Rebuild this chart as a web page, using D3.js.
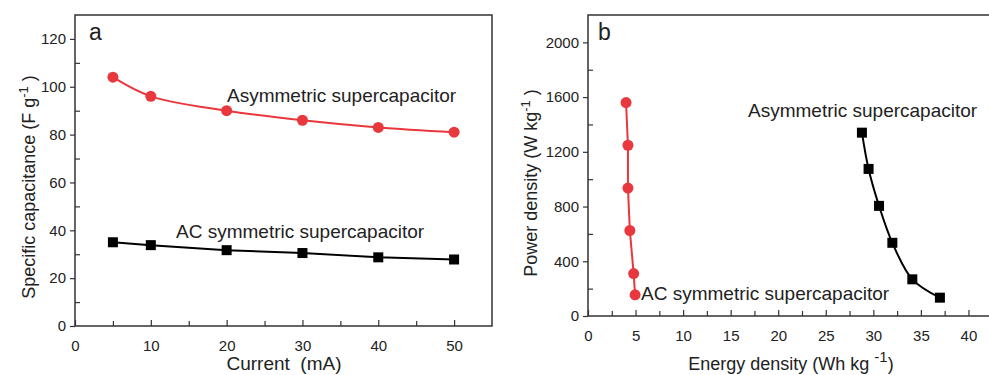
<!DOCTYPE html>
<html>
<head>
<meta charset="utf-8">
<script src="https://cdn.jsdelivr.net/npm/d3@7"></script>
<style>
  body { margin: 0; background: #fff; }
  svg text { font-family: "Liberation Sans", Arial, sans-serif; fill: #222; }
</style>
</head>
<body>
<div id="chart"></div>
<script>
// panel a: specific capacitance vs current
var currentA = [5, 10, 20, 30, 40, 50];
var asymCap = [104, 96, 90, 86, 83, 81];
var acCap = [35, 33.8, 31.7, 30.5, 28.7, 27.8];

// panel b: ragone plot
var asymEnergy = [28.8, 29.5, 30.6, 32.0, 34.1, 37.0];
var asymPower = [1340, 1075, 805, 535, 268, 134];
var acEnergy = [4.0, 4.2, 4.2, 4.4, 4.8, 4.95];
var acPower = [1560, 1248, 935, 625, 310, 155];

var xTicksA = [0, 10, 20, 30, 40, 50];
var yTicksA = [0, 20, 40, 60, 80, 100, 120];
var xTicksB = [0, 5, 10, 15, 20, 25, 30, 35, 40];
var yTicksB = [0, 400, 800, 1200, 1600, 2000];

var red = "#e8383d";

var svg = d3.select("#chart").append("svg")
    .attr("width", 989)
    .attr("height", 375);

function drawPanel(opt) {
  var g = svg.append("g");
  var x = d3.scaleLinear().domain(opt.xDomain).range([opt.left, opt.right]);
  var y = d3.scaleLinear().domain(opt.yDomain).range([opt.bottom, opt.top]);

  // frame
  g.append("rect")
    .attr("x", opt.left).attr("y", opt.top)
    .attr("width", opt.right - opt.left).attr("height", opt.bottom - opt.top)
    .attr("fill", "none").attr("stroke", "#333").attr("stroke-width", 1.5);

  // x axis: ticks point inward
  var xa = g.append("g").attr("transform", "translate(0," + opt.bottom + ")")
    .call(d3.axisBottom(x).tickValues(opt.xMinor).tickSize(-5).tickFormat(""));
  xa.select(".domain").remove();
  xa.selectAll("line").attr("stroke", "#333").attr("stroke-width", 1.2);
  var xb = g.append("g").attr("transform", "translate(0," + opt.bottom + ")")
    .call(d3.axisBottom(x).tickValues(opt.xTicks).tickSize(-6).tickPadding(14).tickFormat(d3.format("d")));
  xb.select(".domain").remove();
  xb.selectAll("line").attr("stroke", "#333").attr("stroke-width", 1.2);
  xb.selectAll("text").attr("font-size", 15).attr("fill", "#222");

  // y axis: major out, minor in
  var ya = g.append("g").attr("transform", "translate(" + opt.left + ",0)")
    .call(d3.axisLeft(y).tickValues(opt.yMinor).tickSize(-5).tickFormat(""));
  ya.select(".domain").remove();
  ya.selectAll("line").attr("stroke", "#333").attr("stroke-width", 1.2);
  var yb = g.append("g").attr("transform", "translate(" + opt.left + ",0)")
    .call(d3.axisLeft(y).tickValues(opt.yTicks).tickSize(5).tickPadding(4).tickFormat(d3.format("d")));
  yb.select(".domain").remove();
  yb.selectAll("line").attr("stroke", "#333").attr("stroke-width", 1.2);
  yb.selectAll("text").attr("font-size", 15).attr("fill", "#222");

  return {g: g, x: x, y: y};
}

function series(p, xs, ys, color, shape, curve) {
  var pts = xs.map(function(d, i) { return [d, ys[i]]; });
  var line = d3.line().x(d => p.x(d[0])).y(d => p.y(d[1])).curve(curve);
  p.g.append("path").datum(pts)
    .attr("d", line).attr("fill", "none")
    .attr("stroke", color).attr("stroke-width", 2);
  if (shape === "circle") {
    p.g.selectAll(null).data(pts).enter().append("circle")
      .attr("cx", d => p.x(d[0])).attr("cy", d => p.y(d[1]))
      .attr("r", 5.5).attr("fill", color);
  } else {
    p.g.selectAll(null).data(pts).enter().append("rect")
      .attr("x", d => p.x(d[0]) - 5).attr("y", d => p.y(d[1]) - 5)
      .attr("width", 10).attr("height", 10).attr("fill", color);
  }
}

// ---- panel a
var pa = drawPanel({
  left: 75, right: 492, top: 15, bottom: 326,
  xDomain: [0, 55], yDomain: [0, 130],
  xTicks: xTicksA, xMinor: [5, 15, 25, 35, 45],
  yTicks: yTicksA, yMinor: [10, 30, 50, 70, 90, 110]
});
series(pa, currentA, asymCap, red, "circle", d3.curveCatmullRom);
series(pa, currentA, acCap, "#000", "square", d3.curveLinear);

pa.g.append("text").attr("x", 89).attr("y", 40).attr("font-size", 23).text("a");
pa.g.append("text").attr("x", 227).attr("y", 102).attr("font-size", 19).text("Asymmetric supercapacitor");
pa.g.append("text").attr("x", 176).attr("y", 238).attr("font-size", 19).text("AC symmetric supercapacitor");

var yla = pa.g.append("text")
  .attr("transform", "translate(35,187) rotate(-90)")
  .attr("text-anchor", "middle").attr("font-size", 18);
yla.append("tspan").text("Specific capacitance (F g");
yla.append("tspan").attr("dy", -7).attr("font-size", 13).text("-1");
yla.append("tspan").attr("dy", 7).text(" )");

pa.g.append("text").attr("x", 284).attr("y", 370)
  .attr("text-anchor", "middle").attr("font-size", 19)
  .style("white-space", "pre").text("Current  (mA)");

// ---- panel b
var pb = drawPanel({
  left: 588, right: 1016, top: 15, bottom: 316,
  xDomain: [0, 45], yDomain: [0, 2200],
  xTicks: xTicksB, xMinor: [2.5, 7.5, 12.5, 17.5, 22.5, 27.5, 32.5, 37.5, 42.5],
  yTicks: yTicksB, yMinor: [200, 600, 1000, 1400, 1800]
});
series(pb, acEnergy, acPower, red, "circle", d3.curveLinear);
series(pb, asymEnergy, asymPower, "#000", "square", d3.curveCatmullRom);

pb.g.append("text").attr("x", 598).attr("y", 40).attr("font-size", 23).text("b");
pb.g.append("text").attr("x", 748).attr("y", 117).attr("font-size", 19).text("Asymmetric supercapacitor");
pb.g.append("text").attr("x", 641).attr("y", 300).attr("font-size", 19).text("AC symmetric supercapacitor");

var ylb = pb.g.append("text")
  .attr("transform", "translate(537,183) rotate(-90)")
  .attr("text-anchor", "middle").attr("font-size", 18);
ylb.append("tspan").text("Power density (W kg");
ylb.append("tspan").attr("dy", -7).attr("font-size", 13).text("-1");
ylb.append("tspan").attr("dy", 7).text(" )");

var xlb = pb.g.append("text").attr("x", 791).attr("y", 370)
  .attr("text-anchor", "middle").attr("font-size", 18);
xlb.append("tspan").text("Energy density (Wh kg ");
xlb.append("tspan").attr("dy", -8).attr("font-size", 15).text("-1");
xlb.append("tspan").attr("dy", 8).text(")");
</script>
</body>
</html>
